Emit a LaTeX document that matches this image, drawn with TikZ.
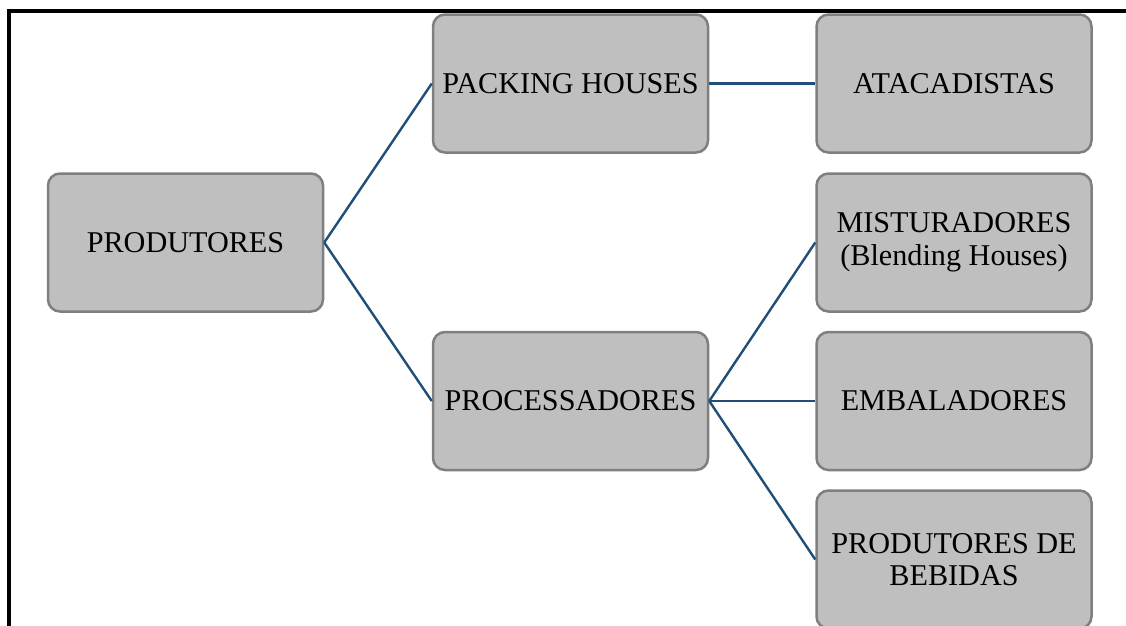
\documentclass[tikz,border=0pt]{standalone}
\usepackage{fontspec}
\setmainfont{Liberation Serif}
\definecolor{boxfill}{HTML}{BFBFBF}
\definecolor{boxline}{HTML}{7F7F7F}
\definecolor{link}{HTML}{1F4E79}
\begin{document}
\begin{tikzpicture}[x=1pt,y=-1pt,
  box/.style={draw=boxline, fill=boxfill, line width=2.5pt, rounded corners=12pt,
    minimum width=275pt, minimum height=138pt, inner sep=0pt, align=center,
    font=\fontsize{30.2}{32.5}\selectfont},
  conn/.style={draw=link, line width=2.4pt}]
\useasboundingbox (0,0) rectangle (1126,625);
\clip (0,0) rectangle (1126,625);
\draw[line width=4pt] (9,627) -- (9,11) -- (1128,11);
\node[box] (prod) at (185.5,242.5) {PRODUTORES};
\node[box] (pack) at (570.5,83.5) {PACKING HOUSES};
\node[box] (proc) at (570.5,401) {PROCESSADORES};
\node[box] (atac) at (954,83.5) {ATACADISTAS};
\node[box] (mist) at (954,242.5) {MISTURADORES\\(Blending Houses)};
\node[box] (emba) at (954,401) {EMBALADORES};
\node[box] (bebi) at (954,559.5) {PRODUTORES DE\\BEBIDAS};
\draw[conn] (prod.east) -- (pack.west);
\draw[conn] (prod.east) -- (proc.west);
\draw[conn] (pack.east) -- (atac.west);
\draw[conn] (proc.east) -- (mist.west);
\draw[conn] (proc.east) -- (emba.west);
\draw[conn] (proc.east) -- (bebi.west);
\end{tikzpicture}
\end{document}
